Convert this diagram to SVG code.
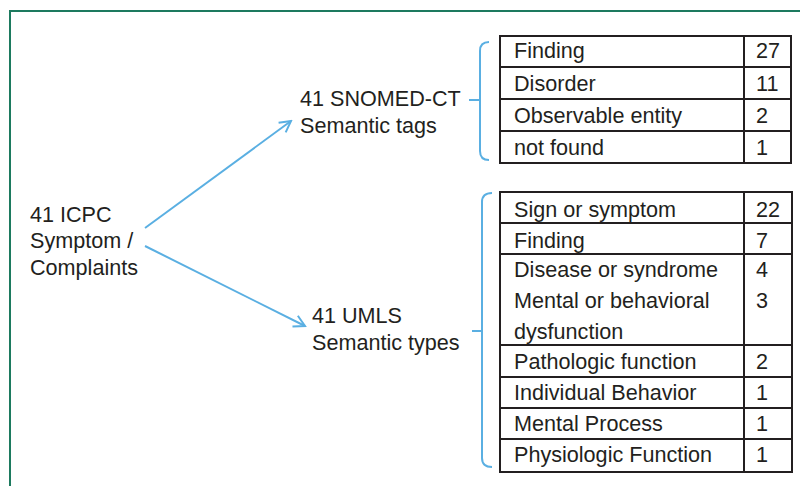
<svg xmlns="http://www.w3.org/2000/svg" width="800" height="486" viewBox="0 0 800 486">
<style>
text{font-family:"Liberation Sans",Arial,sans-serif;font-size:21.6px;fill:#231f20}
.cell{fill:none;stroke:#231f20;stroke-width:2}
.blue{fill:none;stroke:#5aafe2;stroke-width:2}
</style>
<defs>
<marker id="arr" viewBox="0 0 14 14" refX="12" refY="7" markerWidth="14" markerHeight="14" markerUnits="userSpaceOnUse" orient="auto">
<path d="M1,1 L12,7 L1,13" fill="none" stroke="#5aafe2" stroke-width="2"/>
</marker>
</defs>
<rect x="10" y="11" width="800" height="485" fill="#fff" stroke="#1d7a5f" stroke-width="2"/>
<g id="icpc">
<text x="30" y="222">41 ICPC</text>
<text x="30" y="248">Symptom /</text>
<text x="30" y="275">Complaints</text>
</g>
<g id="snomed">
<text x="300" y="106">41 SNOMED-CT</text>
<text x="300" y="133">Semantic tags</text>
</g>
<g id="umls">
<text x="312" y="323">41 UMLS</text>
<text x="312" y="350">Semantic types</text>
</g>
<g id="connectors">
<line class="blue" x1="145" y1="228" x2="291" y2="121" marker-end="url(#arr)"/>
<line class="blue" x1="145" y1="246" x2="305" y2="326" marker-end="url(#arr)"/>
<path class="blue" d="M489,42 Q480,42 480,51 V151 Q480,160 489,160 M469,100 H480"/>
<path class="blue" d="M492,193 Q482,193 482,202 V458 Q482,467 492,467 M472,331 H482"/>
</g>
<g id="snomed-table">
<rect class="cell" x="500" y="36" width="291" height="127"/>
<path class="cell" d="M744,36 V163 M500,67 H791 M500,99 H791 M500,131 H791"/>
<text x="514" y="58">Finding</text><text x="756" y="58">27</text>
<text x="514" y="91">Disorder</text><text x="756" y="91">11</text>
<text x="514" y="123">Observable entity</text><text x="756" y="123">2</text>
<text x="514" y="155">not found</text><text x="756" y="155">1</text>
</g>
<g id="umls-table">
<rect class="cell" x="500" y="192" width="292" height="280"/>
<path class="cell" d="M744,192 V472 M500,223 H792 M500,254 H792 M500,345 H792 M500,377 H792 M500,408 H792 M500,439 H792"/>
<text x="514" y="217">Sign or symptom</text><text x="756" y="217">22</text>
<text x="514" y="248">Finding</text><text x="756" y="248">7</text>
<text x="514" y="277">Disease or syndrome</text><text x="756" y="277">4</text>
<text x="514" y="308">Mental or behavioral</text><text x="756" y="308">3</text>
<text x="514" y="339">dysfunction</text>
<text x="514" y="369">Pathologic function</text><text x="756" y="369">2</text>
<text x="514" y="400">Individual Behavior</text><text x="756" y="400">1</text>
<text x="514" y="431">Mental Process</text><text x="756" y="431">1</text>
<text x="514" y="462">Physiologic Function</text><text x="756" y="462">1</text>
</g>
</svg>
